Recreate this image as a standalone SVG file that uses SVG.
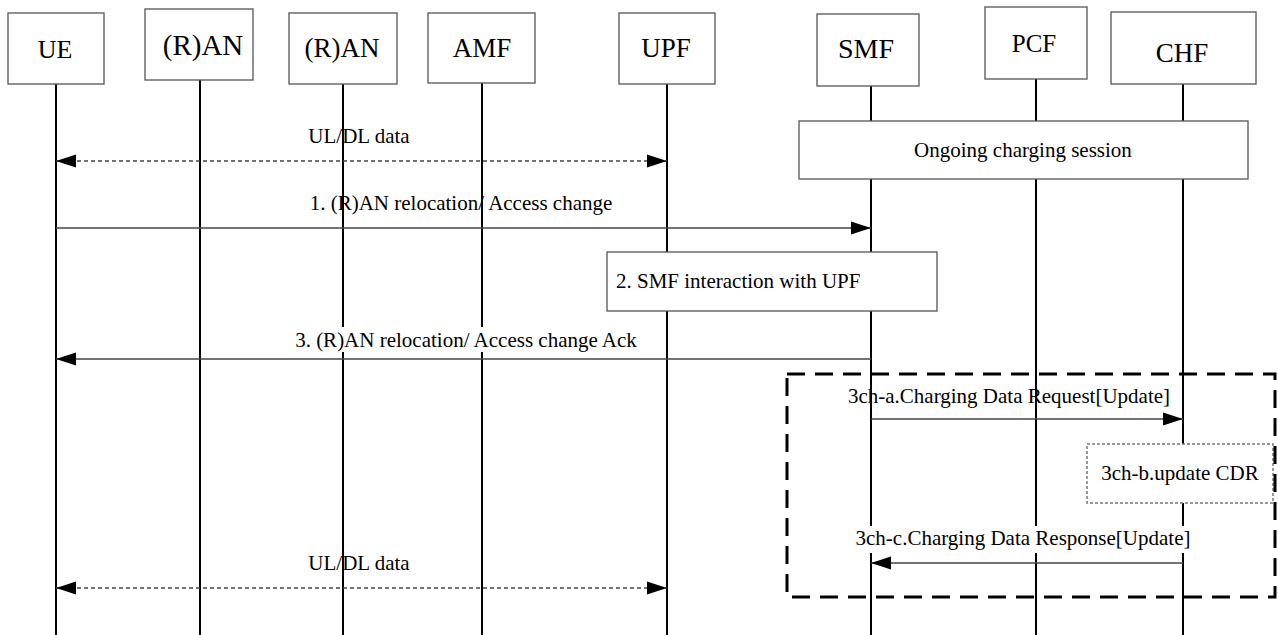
<svg xmlns="http://www.w3.org/2000/svg" width="1278" height="635" viewBox="0 0 1278 635">
<style>
.box{fill:#fff;stroke:#555;stroke-width:1.3}
.life{stroke:#000;stroke-width:2}
.lbl{font-family:"Liberation Serif","Times New Roman",serif;font-size:26px;fill:#000;text-anchor:middle}
.msg{font-family:"Liberation Serif","Times New Roman",serif;font-size:21px;fill:#000}
.arr{stroke:#444;stroke-width:1.5;fill:none}
.data{stroke:#444;stroke-width:1.5;stroke-dasharray:4 3;fill:none}
.bg{fill:#fff}
</style>
<defs>
<marker id="ah" markerWidth="20" markerHeight="14" refX="20" refY="7" orient="auto-start-reverse" markerUnits="userSpaceOnUse">
<path d="M0,0.5 L20,7 L0,13.5 z" fill="#000"/>
</marker>
</defs>
<rect width="1278" height="635" fill="#fff"/>
<g id="node-ue">
<line class="life" x1="56" y1="84" x2="56" y2="635"/>
<rect class="box" x="8" y="13" width="96" height="71"/>
<text class="lbl" x="55" y="58">UE</text>
</g>
<g id="node-ran1">
<line class="life" x1="200" y1="80" x2="200" y2="635"/>
<rect class="box" x="145" y="9" width="108" height="71"/>
<text class="lbl" x="203" y="55" style="font-size:29px">(R)AN</text>
</g>
<g id="node-ran2">
<line class="life" x1="343" y1="84" x2="343" y2="635"/>
<rect class="box" x="289" y="13" width="108" height="71"/>
<text class="lbl" x="342" y="57" style="font-size:27px">(R)AN</text>
</g>
<g id="node-amf">
<line class="life" x1="482" y1="83" x2="482" y2="635"/>
<rect class="box" x="428" y="13" width="107" height="70"/>
<text class="lbl" x="482" y="57" style="font-size:27px">AMF</text>
</g>
<g id="node-upf">
<line class="life" x1="667" y1="84" x2="667" y2="635"/>
<rect class="box" x="619" y="13" width="96" height="71"/>
<text class="lbl" x="666" y="57" style="font-size:27px">UPF</text>
</g>
<g id="node-smf">
<line class="life" x1="871" y1="86" x2="871" y2="635"/>
<rect class="box" x="817" y="14" width="102" height="72"/>
<text class="lbl" x="866" y="58" style="font-size:28px">SMF</text>
</g>
<g id="node-pcf">
<line class="life" x1="1036" y1="79" x2="1036" y2="635"/>
<rect class="box" x="985" y="7" width="102" height="72"/>
<text class="lbl" x="1034" y="52" style="font-size:25px">PCF</text>
</g>
<g id="node-chf">
<line class="life" x1="1183" y1="84" x2="1183" y2="635"/>
<rect class="box" x="1111" y="12" width="145" height="72"/>
<text class="lbl" x="1182" y="62" style="font-size:27px">CHF</text>
</g>
<g id="node-ongoing">
<rect class="box" x="799" y="121" width="449" height="58"/>
<text class="msg" x="1023" y="157" text-anchor="middle">Ongoing charging session</text>
</g>
<g id="node-step2">
<rect class="box" x="607" y="252" width="330" height="59"/>
<text class="msg" x="616" y="288">2. SMF interaction with UPF</text>
</g>
<g id="node-step3chb">
<rect x="1087" y="444" width="186" height="59" fill="#fff" stroke="#777" stroke-width="1.5" stroke-dasharray="3 2"/>
<text class="msg" x="1180" y="480" text-anchor="middle">3ch-b.update CDR</text>
</g>
<g id="group-charging">
<rect x="787" y="374" width="488" height="223" fill="none" stroke="#000" stroke-width="3" stroke-dasharray="18 10"/>
</g>
<g id="connectors">
<line class="data" x1="56" y1="161" x2="667" y2="161" marker-start="url(#ah)" marker-end="url(#ah)"/>
<text class="msg" x="359" y="143" text-anchor="middle">UL/DL data</text>
<line class="arr" x1="56" y1="228" x2="871" y2="228" marker-end="url(#ah)"/>
<text class="msg" x="461" y="210" text-anchor="middle">1. (R)AN relocation/ Access change</text>
<rect class="bg" x="288" y="327" width="362" height="25"/>
<line class="arr" x1="871" y1="359" x2="56" y2="359" marker-end="url(#ah)"/>
<text class="msg" x="466" y="347" text-anchor="middle">3. (R)AN relocation/ Access change Ack</text>
<line class="arr" x1="871" y1="419" x2="1183" y2="419" marker-end="url(#ah)"/>
<text class="msg" x="1009" y="403" text-anchor="middle">3ch-a.Charging Data Request[Update]</text>
<rect class="bg" x="850" y="526" width="346" height="27"/>
<line class="arr" x1="1183" y1="563" x2="871" y2="563" marker-end="url(#ah)"/>
<text class="msg" x="1023" y="545" text-anchor="middle">3ch-c.Charging Data Response[Update]</text>
<line class="data" x1="56" y1="588" x2="667" y2="588" marker-start="url(#ah)" marker-end="url(#ah)"/>
<text class="msg" x="359" y="570" text-anchor="middle">UL/DL data</text>
</g>
</svg>
